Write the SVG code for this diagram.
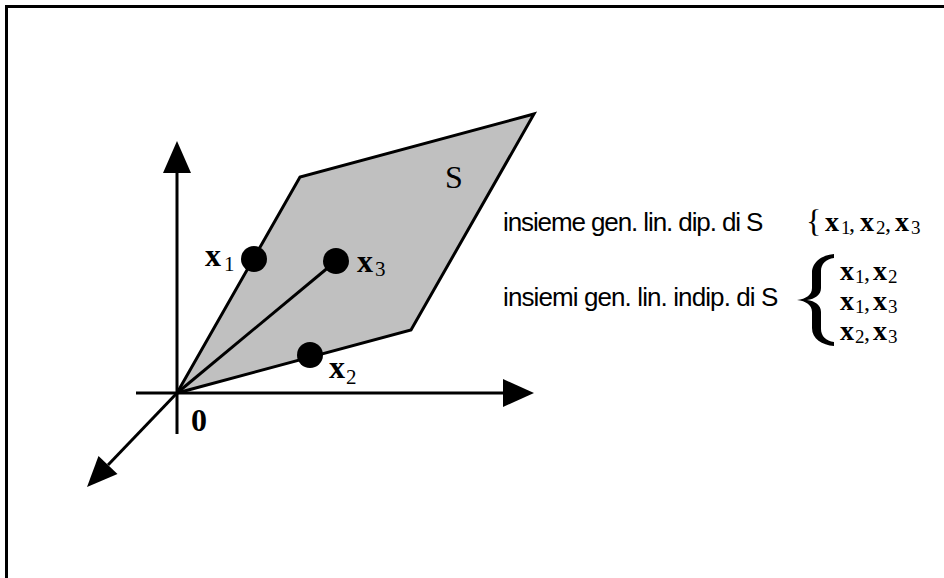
<svg xmlns="http://www.w3.org/2000/svg" width="944" height="578" viewBox="0 0 944 578">
<style>
.ax{stroke:#000;stroke-width:3;fill:none}
.hd{fill:#000;stroke:none}
.vb{font-family:"Liberation Serif","Times New Roman",serif;font-weight:bold;font-size:32px;fill:#000}
.vs{font-family:"Liberation Serif","Times New Roman",serif;font-weight:normal;font-size:21px;fill:#000}
.vb2{font-family:"Liberation Serif","Times New Roman",serif;font-weight:bold;font-size:28px;fill:#000}
.vs2{font-family:"Liberation Serif","Times New Roman",serif;font-weight:normal;font-size:19px;fill:#000}
.cm{font-family:"Liberation Serif","Times New Roman",serif;font-weight:normal;font-size:24px;fill:#000}
.tx{font-family:"Liberation Sans",Arial,sans-serif;font-size:26px;fill:#000}
.dot{fill:#000}
</style>
<rect x="0" y="0" width="944" height="578" fill="#fff"/>
<rect x="6.5" y="6.5" width="960" height="600" fill="none" stroke="#000" stroke-width="3"/>
<g id="plane">
<polygon points="177,393 300,177 534,114 411,330" fill="#c0c0c0" stroke="#000" stroke-width="3" stroke-linejoin="miter"/>
<text class="vb" style="font-weight:normal" x="445" y="188">S</text>
</g>
<g id="connectors">
<line class="ax" x1="177" y1="434" x2="177" y2="170"/>
<polygon class="hd" points="177,141 163,173 191,173"/>
<line class="ax" x1="136" y1="393" x2="505" y2="393"/>
<polygon class="hd" points="534,393 503,379 503,407"/>
<line class="ax" x1="177" y1="393" x2="108" y2="465"/>
<polygon class="hd" points="87,487 98.5,456 117.5,474"/>
<line class="ax" x1="177" y1="393" x2="336" y2="261"/>
</g>
<g id="origin"><text class="vb" x="191" y="431">0</text></g>
<g id="x1">
<circle class="dot" cx="254" cy="259" r="13"/>
<text class="vb" x="205" y="266">x<tspan class="vs" x="224" y="271">1</tspan></text>
</g>
<g id="x3">
<circle class="dot" cx="336" cy="261" r="13"/>
<text class="vb" x="357" y="272">x<tspan class="vs" x="375" y="276">3</tspan></text>
</g>
<g id="x2">
<circle class="dot" cx="310" cy="355" r="13"/>
<text class="vb" x="329" y="378">x<tspan class="vs" x="346" y="384">2</tspan></text>
</g>
<g id="dep">
<text class="tx" x="503" y="231" letter-spacing="-1.1">insieme gen. lin. dip. di S</text>
<text class="cm" x="806" y="232"><tspan style="font-size:32px">{</tspan><tspan class="vb2" x="825" y="231">x</tspan><tspan class="vs2" x="841" y="234">1</tspan><tspan x="849" y="231">,</tspan><tspan class="vb2" x="860" y="231">x</tspan><tspan class="vs2" x="876" y="234">2</tspan><tspan x="885" y="231">,</tspan><tspan class="vb2" x="895" y="231">x</tspan><tspan class="vs2" x="911" y="234">3</tspan></text>
</g>
<g id="indep">
<text class="tx" x="503" y="306" letter-spacing="-0.9">insiemi gen. lin. indip. di S</text>
<path class="hd" d="M834,254 C822,255 812,262 812,273 L812,288 C812,295 806,299 797,300 C806,301 812,305 812,312 L812,328 C812,339 822,345 834,346 L834,342 C826,341 821,336 821,329 L821,312 C821,305 815,301 807,300 C815,299 821,295 821,288 L821,271 C821,264 826,259 834,258 Z"/>
<text class="vb2" x="840" y="280">x<tspan class="vs2" x="855" y="283">1</tspan><tspan class="cm" x="864" y="280">,</tspan><tspan x="873" y="280">x</tspan><tspan class="vs2" x="888" y="283">2</tspan></text>
<text class="vb2" x="840" y="310">x<tspan class="vs2" x="855" y="313">1</tspan><tspan class="cm" x="864" y="310">,</tspan><tspan x="873" y="310">x</tspan><tspan class="vs2" x="888" y="313">3</tspan></text>
<text class="vb2" x="840" y="340">x<tspan class="vs2" x="855" y="343">2</tspan><tspan class="cm" x="864" y="340">,</tspan><tspan x="873" y="340">x</tspan><tspan class="vs2" x="888" y="343">3</tspan></text>
</g>
</svg>
